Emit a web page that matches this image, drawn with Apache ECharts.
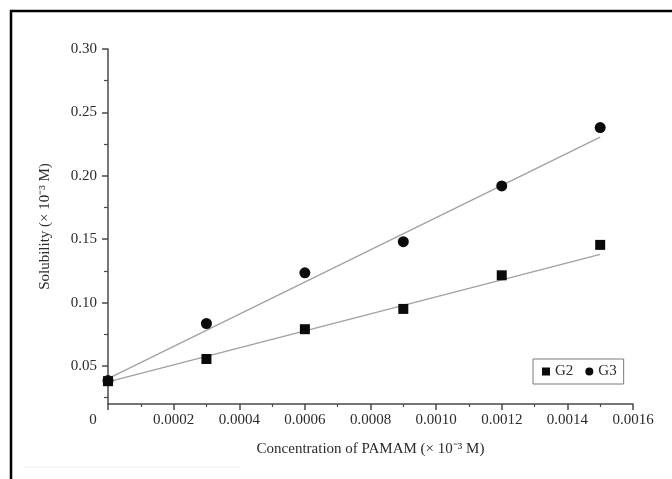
<!DOCTYPE html>
<html>
<head>
<meta charset="utf-8">
<script src="https://cdn.jsdelivr.net/npm/echarts@6/dist/echarts.min.js"></script>
<style>html,body{margin:0;padding:0;background:#fff}#c{width:672px;height:479px}</style>
</head>
<body>
<div id="c"></div>
<script>
// Data
var xValues = [0, 0.0003, 0.0006, 0.0009, 0.0012, 0.0015];
var g2Values = [0.038, 0.0555, 0.079, 0.095, 0.1215, 0.1455];
var g3Values = [0.0385, 0.0835, 0.1235, 0.148, 0.192, 0.238];
// fitted straight lines as drawn (end points)
var g2FitX = [0, 0.0015];
var g2FitY = [0.0375, 0.138];
var g3FitX = [0, 0.0015];
var g3FitY = [0.040, 0.2305];
// tick values
var yLabelValues = [0.05, 0.10, 0.15, 0.20, 0.25, 0.30];
var yMinorValues = [0.025, 0.075, 0.125, 0.175, 0.225, 0.275];
var seriesNames = ['G2', 'G3'];

function pairs(xs, ys) { return xs.map(function (x, i) { return [x, ys[i]]; }); }

var FONT = '"Liberation Serif", "Times New Roman", serif';
var TXT = '#2b2b2b';
var AX = '#4a4a4a';

var chart = echarts.init(document.getElementById('c'), null, {renderer: 'canvas'});
chart.setOption({
  animation: false,
  backgroundColor: '#fff',
  grid: {left: 108, right: 39, top: 49, bottom: 75, containLabel: false},
  legend: {
    data: [{name: seriesNames[0], icon: 'rect'}, {name: seriesNames[1], icon: 'circle'}],
    left: 533, top: 359,
    orient: 'horizontal',
    itemWidth: 8, itemHeight: 8, itemGap: 12,
    padding: [5, 7, 5, 9],
    borderColor: '#7a7a7a', borderWidth: 1,
    textStyle: {fontFamily: FONT, fontSize: 15, color: TXT, padding: [0, 0, 0, 0]}
  },
  xAxis: {
    type: 'value', min: 0, max: 0.0016, interval: 0.0002,
    name: 'Concentration of PAMAM (× 10⁻³ M)',
    nameLocation: 'middle', nameGap: 38,
    nameTextStyle: {fontFamily: FONT, fontSize: 15, color: TXT},
    axisLine: {show: true, lineStyle: {color: AX, width: 1.5}},
    axisTick: {show: true, inside: false, length: 6, lineStyle: {color: AX, width: 1.5}},
    minorTick: {show: true, splitNumber: 2, length: 3, lineStyle: {color: AX, width: 1.2}},
    splitLine: {show: false},
    axisLabel: {
      fontFamily: FONT, fontSize: 15, color: TXT, margin: 9,
      formatter: function (v) { return v === 0 ? '{z|0}' : v.toFixed(4); },
      rich: {z: {fontFamily: FONT, fontSize: 15, color: TXT, padding: [0, 30, 0, 0]}}
    }
  },
  yAxis: [{
    type: 'value', min: 0.02, max: 0.30,
    name: 'Solubility (× 10⁻³ M)',
    nameLocation: 'middle', nameGap: 55,
    nameTextStyle: {fontFamily: FONT, fontSize: 15, color: TXT},
    axisLine: {show: true, lineStyle: {color: AX, width: 1.5}},
    axisTick: {show: true, length: 6, customValues: yLabelValues, lineStyle: {color: AX, width: 1.5}},
    splitLine: {show: false},
    axisLabel: {
      fontFamily: FONT, fontSize: 15, color: TXT, margin: 11,
      customValues: yLabelValues,
      formatter: function (v) { return v.toFixed(2); }
    }
  }, {
    type: 'value', min: 0.02, max: 0.30, position: 'left',
    axisLine: {show: false},
    axisTick: {show: true, length: 4, customValues: yMinorValues, lineStyle: {color: AX, width: 1.2}},
    axisLabel: {show: false},
    splitLine: {show: false}
  }],
  series: [
    {name: 'G2 fit', type: 'line', data: pairs(g2FitX, g2FitY), showSymbol: false, symbol: 'none',
      lineStyle: {color: '#a0a0a0', width: 1.2}, z: 1, silent: true},
    {name: 'G3 fit', type: 'line', data: pairs(g3FitX, g3FitY), showSymbol: false, symbol: 'none',
      lineStyle: {color: '#a0a0a0', width: 1.2}, z: 1, silent: true},
    {name: seriesNames[0], type: 'scatter', symbol: 'rect', symbolSize: 10,
      itemStyle: {color: '#0a0a0a', opacity: 1}, data: pairs(xValues, g2Values), z: 3},
    {name: seriesNames[1], type: 'scatter', symbol: 'circle', symbolSize: 11,
      itemStyle: {color: '#0a0a0a', opacity: 1}, data: pairs(xValues, g3Values), z: 3}
  ],
  graphic: [
    {type: 'line', shape: {x1: 10, y1: 11, x2: 672, y2: 11}, style: {stroke: '#000', lineWidth: 2.5}},
    {type: 'line', shape: {x1: 11, y1: 10, x2: 11, y2: 479}, style: {stroke: '#000', lineWidth: 2.5}},
    {type: 'line', shape: {x1: 25, y1: 467, x2: 240, y2: 467}, style: {stroke: '#eeeeee', lineWidth: 1}}
  ]
});
</script>
</body>
</html>
